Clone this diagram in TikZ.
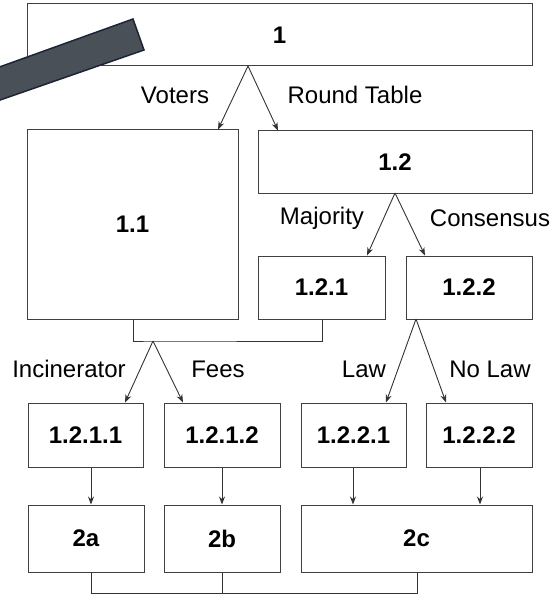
\documentclass[tikz,border=0pt]{standalone}
\usepackage{fontspec}
\setmainfont{Liberation Sans}
\usetikzlibrary{arrows.meta}
\definecolor{barfill}{HTML}{4A5058}
\definecolor{barline}{HTML}{1C2536}

\begin{document}
\begin{tikzpicture}
	[x=1pt,y=-1pt,
	box/.style={draw=black!75, line width=1pt, inner sep=0pt, font=\bfseries\fontsize{24}{24}\selectfont},
	lbl/.style={font=\fontsize{24}{24}\selectfont},
	link/.style={draw=black!80, line width=0.9pt},
	arr/.style={link, -{Stealth[length=8pt,width=6pt]}}];

	\useasboundingbox (0,0) rectangle (557,596);

	%Top
	\node[box, minimum width=505pt, minimum height=62pt] (n1) at (279.5,35) {1};

	%Bar
	\begin{scope}
		\clip (0,0) rectangle (557,596);
		\draw[barline, fill=barfill, line width=1.5pt] (-20,74) -- (133,19) -- (144,50) -- (-20,107) -- cycle;
	\end{scope}

	%Second row
	\node[box, minimum width=211pt, minimum height=189pt] (n11) at (132.5,224.5) {1.1};
	\node[box, minimum width=274pt, minimum height=62pt] (n12) at (395,162) {1.2};
	\node[box, minimum width=127pt, minimum height=63pt] (n121) at (321.5,287.5) {1.2.1};
	\node[box, minimum width=126pt, minimum height=63pt] (n122) at (469,287.5) {1.2.2};

	%Third row
	\node[box, minimum width=115pt, minimum height=64pt] (n1211) at (85.5,435) {1.2.1.1};
	\node[box, minimum width=116pt, minimum height=64pt] (n1212) at (222,435) {1.2.1.2};
	\node[box, minimum width=105pt, minimum height=64pt] (n1221) at (353.5,435) {1.2.2.1};
	\node[box, minimum width=106pt, minimum height=64pt] (n1222) at (479,435) {1.2.2.2};

	%Outcomes
	\node[box, minimum width=116pt, minimum height=67pt] (n2a) at (86,538.5) {2a};
	\node[box, minimum width=116pt, minimum height=67pt] (n2b) at (222,538.5) {2b};
	\node[box, minimum width=231pt, minimum height=67pt] (n2c) at (416.5,538.5) {2c};

	%Forks
	\coordinate (f1) at (248,66);
	\coordinate (f12) at (395,193);
	\coordinate (j1) at (153,341);
	\coordinate (f122) at (416,319);
	\coordinate (b1) at (91,593);

	\draw[arr] (f1) -- (n11.north -| 218,0);
	\draw[arr] (f1) -- (n12.north -| 278,0);
	\draw[arr] (f12) -- (n121.north -| 367,0);
	\draw[arr] (f12) -- (n122.north -| 425,0);

	\draw[link] (n11.south -| 133,0) |- (j1) -| (n121.south -| 322,0);
	\draw[arr] (j1) -- (n1211.north -| 125,0);
	\draw[arr] (j1) -- (n1212.north -| 183,0);
	\draw[arr] (f122) -- (n1221.north -| 386,0);
	\draw[arr] (f122) -- (n1222.north -| 446,0);

	\draw[arr] (n1211.south -| 91,0) -- (n2a.north -| 91,0);
	\draw[arr] (n1212.south -| 222,0) -- (n2b.north -| 222,0);
	\draw[arr] (n1221.south -| 353,0) -- (n2c.north -| 353,0);
	\draw[arr] (n1222.south -| 480,0) -- (n2c.north -| 480,0);

	%Merge
	\draw[link] (n2a.south -| b1) -- (b1) -| (n2c.south -| 417,0);
	\draw[link] (n2b.south -| 222,0) -- (b1 -| 222,0);

	%Labels
	\node[lbl] (lvoters) at (175,95) {Voters};
	\node[lbl] (lround) at (355,95) {Round Table};
	\node[lbl] (lmaj) at (322,218) {Majority};
	\node[lbl] (lcons) at (490,218) {Consensus};
	\node[lbl] (linc) at (69,369) {Incinerator};
	\node[lbl] (lfees) at (218,369) {Fees};
	\node[lbl] (llaw) at (364,369) {Law};
	\node[lbl] (lnolaw) at (490,369) {No Law};
\end{tikzpicture}
\end{document}
